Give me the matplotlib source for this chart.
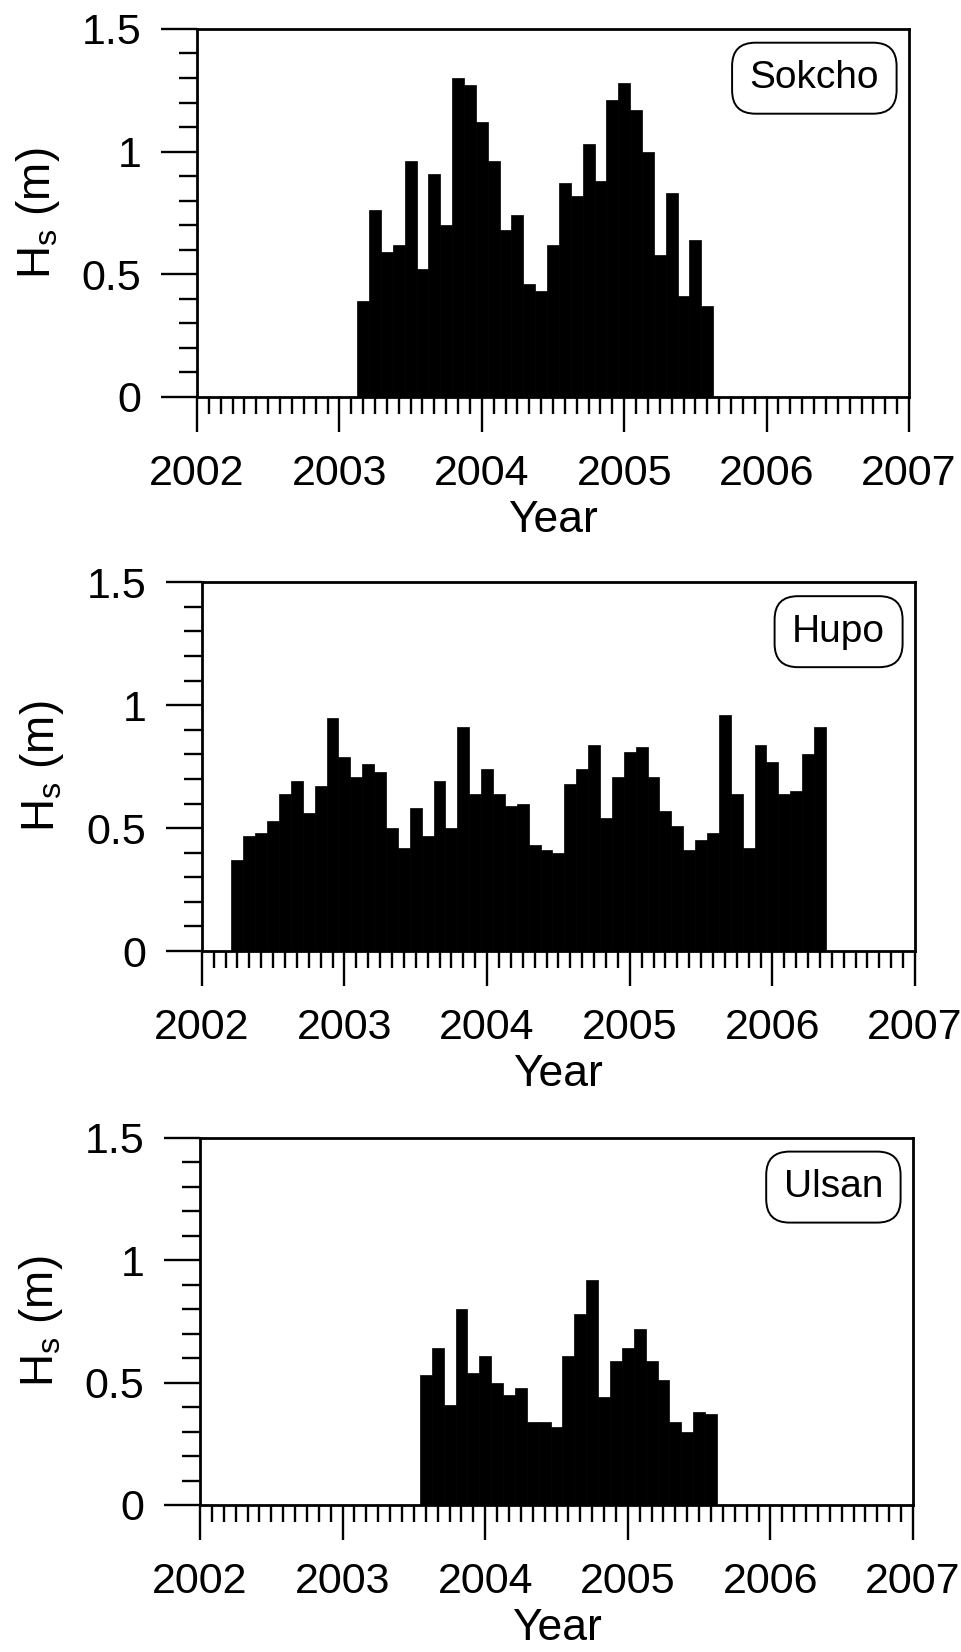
import numpy as np
import matplotlib.pyplot as plt
from matplotlib.ticker import MultipleLocator, FuncFormatter

plt.rcParams['font.family'] = ['Liberation Sans', 'DejaVu Sans']
plt.rcParams['mathtext.fontset'] = 'custom'
plt.rcParams['mathtext.rm'] = 'Liberation Sans'
plt.rcParams['mathtext.it'] = 'Liberation Sans:italic'

# monthly mean significant wave height (m), first bar = start month
stations = ['Sokcho', 'Hupo', 'Ulsan']
start_year = [2003, 2002, 2003]
start_month = [3, 4, 8]

sokcho_hs = [0.39, 0.76, 0.59, 0.62, 0.96, 0.52, 0.91, 0.70, 1.30, 1.27,
             1.12, 0.96, 0.68, 0.74, 0.46, 0.43, 0.62, 0.87, 0.82, 1.03,
             0.88, 1.21, 1.28, 1.17, 1.00, 0.58, 0.83, 0.41, 0.64, 0.37]
hupo_hs = [0.37, 0.47, 0.48, 0.53, 0.64, 0.69, 0.56, 0.67, 0.95, 0.79,
           0.71, 0.76, 0.73, 0.50, 0.42, 0.58, 0.47, 0.69, 0.50, 0.91,
           0.64, 0.74, 0.64, 0.59, 0.60, 0.43, 0.41, 0.40, 0.68, 0.74,
           0.84, 0.54, 0.71, 0.81, 0.83, 0.71, 0.57, 0.51, 0.41, 0.45,
           0.48, 0.96, 0.64, 0.42, 0.84, 0.77, 0.64, 0.65, 0.80, 0.91]
ulsan_hs = [0.53, 0.64, 0.41, 0.80, 0.54, 0.61, 0.50, 0.45, 0.48, 0.34,
            0.34, 0.32, 0.61, 0.78, 0.92, 0.44, 0.59, 0.64, 0.72, 0.59,
            0.51, 0.34, 0.30, 0.38, 0.37]
series = [sokcho_hs, hupo_hs, ulsan_hs]

fig = plt.figure(figsize=(9.62, 16.52), dpi=100)
rects = [[0.2048, 0.7597, 0.7401, 0.2228],
         [0.2097, 0.4243, 0.7415, 0.2232],
         [0.2079, 0.0890, 0.7412, 0.2222]]

for name, yr, mo, vals, rect in zip(stations, start_year, start_month, series, rects):
    ax = fig.add_axes(rect)
    x = yr + (mo - 1 + np.arange(len(vals))) / 12
    ax.bar(x, vals, width=1/12, color='black', edgecolor='black', linewidth=0.5)

    ax.set_xlim(2002, 2007)
    ax.set_ylim(0, 1.5)
    ax.xaxis.set_major_locator(MultipleLocator(1))
    ax.xaxis.set_minor_locator(MultipleLocator(1/12))
    ax.yaxis.set_major_locator(MultipleLocator(0.5))
    ax.yaxis.set_minor_locator(MultipleLocator(0.1))
    ax.xaxis.set_major_formatter(FuncFormatter(lambda v, p: '%d' % round(v)))
    ax.yaxis.set_major_formatter(FuncFormatter(lambda v, p: '%g' % v))

    ax.tick_params(which='both', direction='out', top=False, right=False,
                   width=1.7, labelsize=31)
    ax.tick_params(axis='y', which='major', length=26, pad=14)
    ax.tick_params(axis='y', which='minor', length=13)
    ax.tick_params(axis='x', which='major', length=25, pad=16)
    ax.tick_params(axis='x', which='minor', length=12)
    for s in ax.spines.values():
        s.set_linewidth(2.0)

    ax.set_xlabel('Year', fontsize=32)
    ax.xaxis.set_label_coords(0.5, -0.28)
    ax.set_ylabel(r'H$_{\mathrm{s}}$ (m)', fontsize=33)
    ax.yaxis.set_label_coords(-0.190, 0.5)

    ax.text(0.958, 0.915, name, transform=ax.transAxes,
            ha='right', va='top', fontsize=28,
            bbox=dict(boxstyle='round,pad=0.45,rounding_size=0.6',
                      fc='white', ec='black', lw=1.4))

fig.savefig('out.png', dpi=100)
